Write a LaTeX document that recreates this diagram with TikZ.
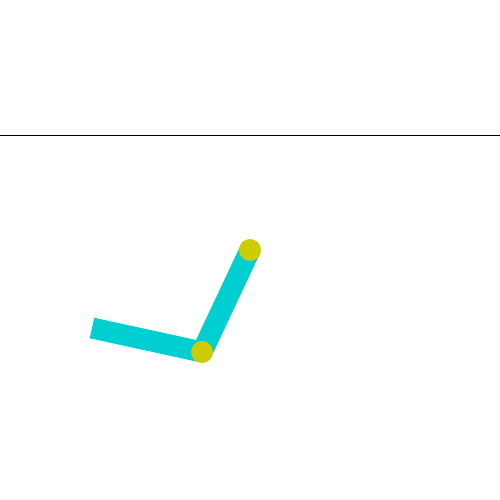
\documentclass[tikz,border=0pt]{standalone}
\begin{document}
\begin{tikzpicture}[x=1pt,y=-1pt,
  arm/.style={line width=21pt,draw=armc,line cap=butt},
  joint/.style={circle,fill=jointc,minimum size=22pt,inner sep=0pt}]
\definecolor{armc}{RGB}{0,206,209}
\definecolor{jointc}{RGB}{204,204,0}
\useasboundingbox[fill=white] (0,0) rectangle (500,500);
\coordinate (gl) at (0,135.5);
\coordinate (gr) at (500,135.5);
\draw[line width=1.2pt] (gl) -- (gr);
\coordinate (base) at (92,328);
\coordinate (j1) at (202,352);
\coordinate (j2) at (250,250);
\draw[arm] (base) -- (j1);
\draw[arm] (j1) -- (j2);
\node[joint] (c1) at (j1) {};
\node[joint] (c2) at (j2) {};
\end{tikzpicture}
\end{document}
